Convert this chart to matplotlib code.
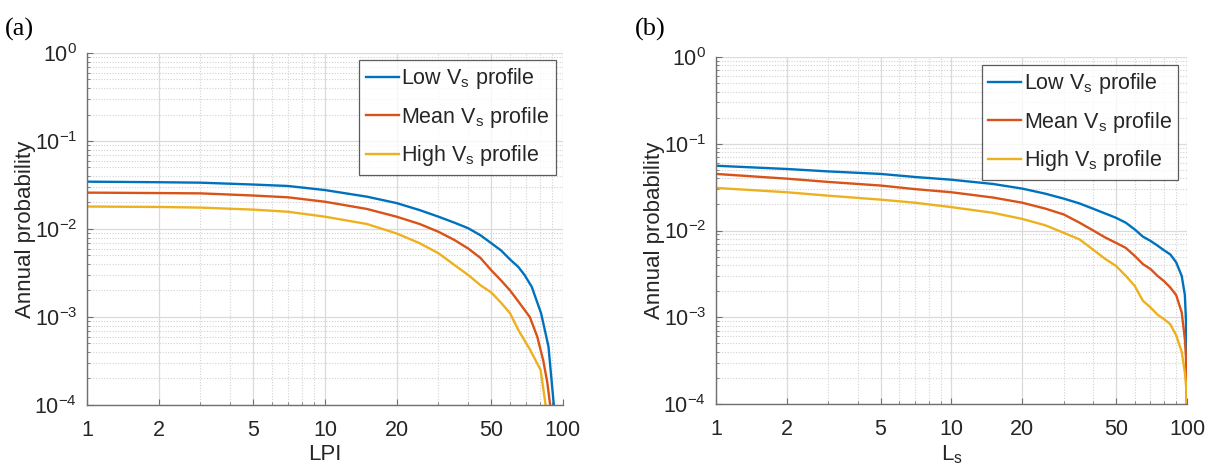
import matplotlib
matplotlib.use("Agg")
import matplotlib.pyplot as plt
from matplotlib.ticker import FixedLocator, FixedFormatter, LogLocator, NullFormatter

plt.rcParams['font.family'] = ['Liberation Sans', 'DejaVu Sans']
plt.rcParams['mathtext.fontset'] = 'custom'
plt.rcParams['mathtext.rm'] = 'Liberation Sans'
plt.rcParams['mathtext.it'] = 'Liberation Sans:italic'
plt.rcParams['mathtext.default'] = 'regular'

# ---- data ----
series_names = ['Low V$_{s}$ profile', 'Mean V$_{s}$ profile', 'High V$_{s}$ profile']
series_colors = ['#0072BD', '#D95319', '#EDB120']

# (a) annual exceedance probability of LPI
lpi_low_x = [1, 2, 3, 5, 7, 10, 15, 20, 25, 30, 35, 40, 45, 50, 55, 60, 65, 69,
             74, 81, 87, 91.6]
lpi_low_y = [0.0345, 0.0340, 0.0336, 0.0320, 0.0308, 0.0277, 0.0233, 0.0197,
             0.0164, 0.0138, 0.0118, 0.0102, 0.0085, 0.0069, 0.0057, 0.0045,
             0.0037, 0.0030, 0.0022, 0.0011, 0.00046, 0.0001]
lpi_mean_x = [1, 2, 3, 5, 7, 10, 15, 20, 25, 30, 35, 40, 45, 50, 55, 60, 65,
              72.6, 78, 82.7, 86, 88.4]
lpi_mean_y = [0.0259, 0.0256, 0.0254, 0.0240, 0.0229, 0.0204, 0.0169, 0.0138,
              0.0114, 0.0093, 0.0075, 0.0060, 0.0047, 0.0034, 0.0026, 0.0020,
              0.0015, 0.0010, 0.0006, 0.00032, 0.00018, 0.0001]
lpi_high_x = [1, 2, 3, 5, 7, 10, 15, 20, 25, 30, 35, 40, 45, 50, 55, 60, 65,
              72.6, 80.6, 84.6]
lpi_high_y = [0.0180, 0.0178, 0.0175, 0.0166, 0.0157, 0.0138, 0.0114, 0.0089,
              0.0069, 0.0053, 0.0039, 0.0030, 0.0023, 0.0019, 0.00145, 0.0011,
              0.00071, 0.00043, 0.00025, 0.0001]

# (b) annual exceedance probability of L_s
ls_x = [1, 2, 3, 5, 7, 10, 15, 20, 25, 30, 35, 40, 45, 50, 55, 60, 65, 70, 75,
        80, 85, 90, 95, 98, 99, 99.6, 100]
ls_low_y = [0.0558, 0.0512, 0.0480, 0.0449, 0.0414, 0.0385, 0.0344, 0.0304,
            0.0266, 0.0233, 0.0205, 0.0178, 0.0157, 0.0140, 0.0123, 0.0103,
            0.0085, 0.0076, 0.0067, 0.0059, 0.0053, 0.0043, 0.0030, 0.0018,
            0.00095, 0.0004, 0.0001]
ls_mean_y = [0.0449, 0.0396, 0.0363, 0.0330, 0.0300, 0.0276, 0.0240, 0.0209,
             0.0179, 0.0153, 0.0123, 0.0100, 0.0083, 0.0072, 0.0063, 0.0051,
             0.0041, 0.0036, 0.0030, 0.0026, 0.0022, 0.0018, 0.00114, 0.00056,
             0.00035, 0.0002, 0.0001]
ls_high_y = [0.0310, 0.0276, 0.0252, 0.0227, 0.0209, 0.0186, 0.0160, 0.0136,
             0.0115, 0.0094, 0.0079, 0.0060, 0.0047, 0.0039, 0.0030, 0.0023,
             0.00155, 0.0013, 0.00107, 0.00095, 0.00083, 0.00062, 0.00040,
             0.00023, 0.00017, 0.00013, 0.0001]

x_ticks = [1, 2, 5, 10, 20, 50, 100]
x_ticklabels = ['1', '2', '5', '10', '20', '50', '100']
y_ticks = [1e-4, 1e-3, 1e-2, 1e-1, 1e0]
y_ticklabels = ['$10^{-4}$', '$10^{-3}$', '$10^{-2}$', '$10^{-1}$', '$10^{0}$']

fig = plt.figure(figsize=(12.16, 4.74), dpi=100)
ax_a = fig.add_axes([0.0715, 0.1456, 0.3914, 0.7426])
ax_b = fig.add_axes([0.5888, 0.1477, 0.3873, 0.7320])

panels = [
    (ax_a, [(lpi_low_x, lpi_low_y), (lpi_mean_x, lpi_mean_y), (lpi_high_x, lpi_high_y)],
     'LPI', (0.985, 0.98)),
    (ax_b, [(ls_x, ls_low_y), (ls_x, ls_mean_y), (ls_x, ls_high_y)],
     'L$_{s}$', (0.981, 0.977)),
]

txt_col = '#262626'
for ax, curves, xlabel, leg_anchor in panels:
    for (xs, ys), name, col in zip(curves, series_names, series_colors):
        ax.plot(xs, ys, color=col, lw=1.7, label=name)
    ax.set_xscale('log')
    ax.set_yscale('log')
    ax.set_xlim(1, 100)
    ax.set_ylim(1e-4, 1)
    ax.xaxis.set_major_locator(FixedLocator(x_ticks))
    ax.xaxis.set_major_formatter(FixedFormatter(x_ticklabels))
    ax.xaxis.set_minor_locator(LogLocator(base=10, subs=range(2, 10)))
    ax.xaxis.set_minor_formatter(NullFormatter())
    ax.yaxis.set_major_locator(FixedLocator(y_ticks))
    ax.yaxis.set_major_formatter(FixedFormatter(y_ticklabels))
    ax.yaxis.set_minor_locator(LogLocator(base=10, subs=range(2, 10)))
    ax.yaxis.set_minor_formatter(NullFormatter())
    ax.grid(True, which='major', color='#dadada', lw=0.9, ls='-')
    ax.grid(True, which='minor', color='#d2d2d2', lw=0.8, ls=(0, (1, 1.5)))
    ax.set_axisbelow(True)
    for side in ('top', 'right'):
        ax.spines[side].set_visible(False)
    for side in ('left', 'bottom'):
        ax.spines[side].set_color('#707070')
        ax.spines[side].set_linewidth(1.0)
    ax.tick_params(which='major', direction='in', length=4, width=0.8,
                   color='#707070', labelsize=15.5, labelcolor=txt_col)
    ax.tick_params(axis='x', which='major', pad=11)
    ax.tick_params(axis='y', which='major', pad=7)
    ax.tick_params(which='minor', direction='in', length=2, width=0.6, color='#707070')
    ax.set_xlabel(xlabel, fontsize=16, color=txt_col, labelpad=2)
    ax.set_ylabel('Annual probability', fontsize=16, color=txt_col, labelpad=-1)
    leg = ax.legend(loc='upper right', bbox_to_anchor=leg_anchor, fontsize=15.5,
                    frameon=True, fancybox=False, edgecolor='#333333',
                    handlelength=1.55, handletextpad=0.1, borderpad=0.3,
                    borderaxespad=0, labelspacing=0.62)
    leg.get_frame().set_linewidth(0.9)
    for t in leg.get_texts():
        t.set_color(txt_col)

serif = ['Liberation Serif', 'DejaVu Serif']
fig.text(0.004, 0.925, '(a)', fontsize=19, family=serif)
fig.text(0.522, 0.925, '(b)', fontsize=19, family=serif)

fig.savefig('out.png', dpi=100)
